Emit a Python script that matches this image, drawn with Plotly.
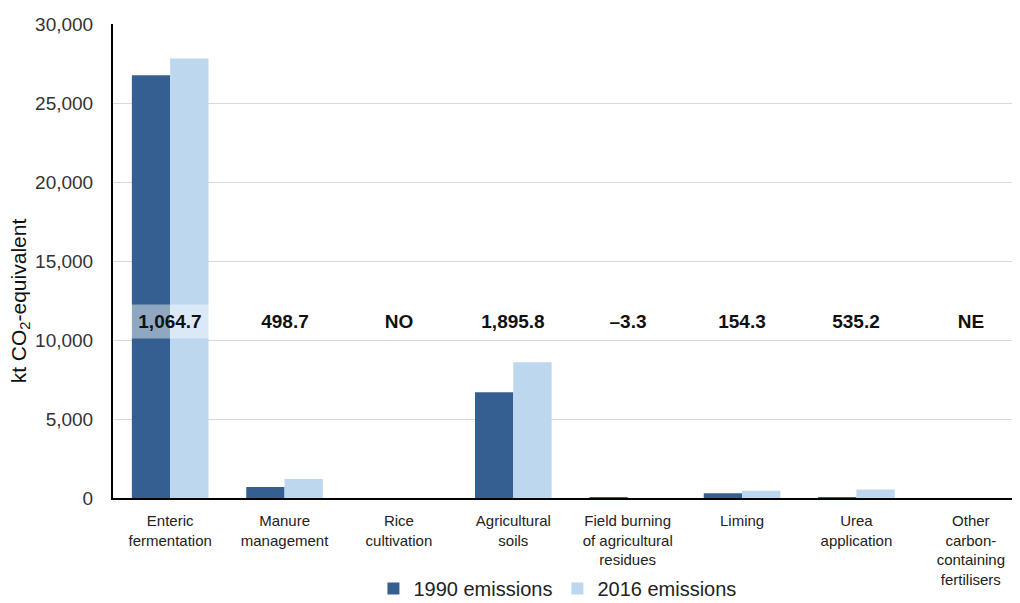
import plotly.graph_objects as go

categories = ["Enteric<br>fermentation", "Manure<br>management", "Rice<br>cultivation",
              "Agricultural<br>soils", "Field burning<br>of agricultural<br>residues",
              "Liming", "Urea<br>application", "Other<br>carbon-<br>containing<br>fertilisers"]
emissions_1990 = [26750, 700, 0, 6700, 3.3, 300, 10, 0]
emissions_2016 = [27815, 1199, 0, 8596, 0, 454, 545, 0]
change_labels = ["1,064.7", "498.7", "NO", "1,895.8", "\u20133.3", "154.3", "535.2", "NE"]
label_y = 11150

fig = go.Figure()
fig.add_trace(go.Bar(x=categories, y=emissions_1990, name="1990 emissions",
                     marker=dict(color="#355f91", line=dict(width=0))))
fig.add_trace(go.Bar(x=categories, y=emissions_2016, name="2016 emissions",
                     marker=dict(color="#bdd7ee", line=dict(width=0))))

for cat, lab in zip(categories, change_labels):
    fig.add_annotation(x=cat, y=label_y, text="<b>" + lab + "</b>", showarrow=False,
                       font=dict(family="Arial, Liberation Sans", size=19, color="#111111"),
                       bgcolor="rgba(255,255,255,0.45)", width=76, height=31)

fig.add_annotation(xref="paper", yref="paper", x=-0.1025, y=0.415, xanchor="center",
                   yanchor="middle", textangle=-90, showarrow=False,
                   text="kt CO<sub>2</sub>-equivalent",
                   font=dict(family="Arial, Liberation Sans", size=21, color="#111111"))

fig.update_layout(
    width=1012, height=595,
    margin=dict(l=105, r=0, t=16, b=105, autoexpand=False),
    plot_bgcolor="white", paper_bgcolor="white",
    barmode="group", bargap=0.33, bargroupgap=0,
    font=dict(family="Arial, Liberation Sans", color="#333333"),
    legend=dict(orientation="h", x=0.49, xanchor="center", y=-0.15, yanchor="top",
                font=dict(size=20, color="#222222"), itemwidth=30,
                traceorder="normal", tracegroupgap=0),
    showlegend=True,
)
fig.update_xaxes(range=[-0.5, 7.43], showline=True, linecolor="black", linewidth=2,
                 tickfont=dict(size=15, color="#222222"), ticks="", showgrid=False,
                 automargin=False, ticklabelstandoff=8)
fig.update_yaxes(range=[0, 30000], dtick=5000, tickformat=",", showline=True,
                 linecolor="black", linewidth=2, showgrid=True, gridcolor="#d9d9d9",
                 gridwidth=1, zeroline=False, ticks="", automargin=False,
                 tickfont=dict(size=19, color="#333333"), ticklabelstandoff=14)

fig.write_html("out.html")
